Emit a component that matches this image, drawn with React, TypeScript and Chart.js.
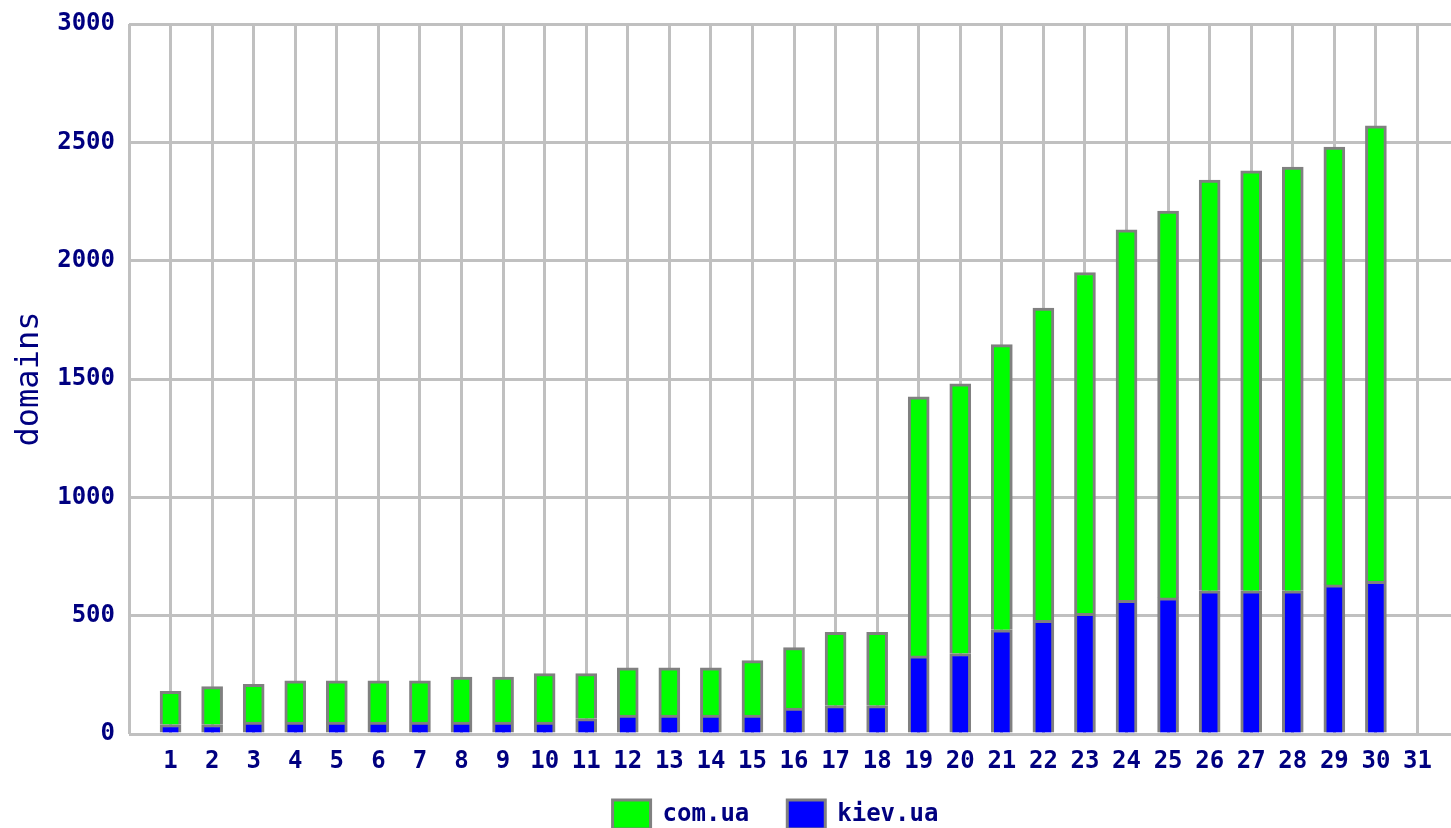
import React, { useEffect, useRef } from "react";
import { Chart, registerables } from "chart.js";

Chart.register(...registerables);

const days = [1, 2, 3, 4, 5, 6, 7, 8, 9, 10, 11, 12, 13, 14, 15, 16, 17, 18, 19, 20, 21, 22, 23, 24, 25, 26, 27, 28, 29, 30];
const kievUa = [40, 40, 50, 50, 50, 50, 50, 50, 50, 50, 65, 80, 80, 80, 80, 110, 120, 120, 330, 340, 440, 480, 510, 565, 575, 605, 605, 605, 630, 645];
const comUa = [140, 160, 160, 175, 175, 175, 175, 190, 190, 205, 190, 200, 200, 200, 230, 255, 310, 310, 1095, 1140, 1205, 1320, 1440, 1565, 1635, 1735, 1775, 1790, 1850, 1925];
const yTicks = [0, 500, 1000, 1500, 2000, 2500, 3000];
const lastDay = 31;

const NAVY = "#000080";
const GRID = "#c0c0c0";
const EDGE = "#808080";
const MONO = "'DejaVu Sans Mono', monospace";

export default function App() {
  const ref = useRef<HTMLCanvasElement>(null);

  useEffect(() => {
    const canvas = ref.current;
    if (!canvas) return;
    const chart = new Chart(canvas, {
      type: "bar",
      data: {
        labels: days,
        datasets: [
          {
            label: "kiev.ua",
            data: kievUa,
            backgroundColor: "#0000ff",
            borderColor: EDGE,
            borderWidth: 3,
            barThickness: 21,
          },
          {
            label: "com.ua",
            data: comUa,
            backgroundColor: "#00ff00",
            borderColor: EDGE,
            borderWidth: 3,
            barThickness: 21,
          },
        ],
      },
      options: {
        responsive: false,
        animation: false,
        devicePixelRatio: 1,
        layout: { padding: { top: 24, left: 0, right: 0, bottom: 0 } },
        plugins: {
          tooltip: { enabled: false },
          legend: {
            position: "bottom",
            reverse: true,
            maxHeight: 54,
            title: {
              display: true,
              text: "",
              font: { size: 10, lineHeight: 1 },
              padding: { top: -22, bottom: 0 },
            },
            labels: {
              boxWidth: 38,
              boxHeight: 29,
              padding: 38,
              color: NAVY,
              font: { family: MONO, size: 24, weight: "bold" },
            },
          },
        },
        scales: {
          x: {
            type: "linear",
            stacked: true,
            min: 0,
            max: 33.9,
            offset: false,
            grid: { color: GRID, lineWidth: 3, drawTicks: false, offset: false },
            border: { display: false },
            ticks: {
              stepSize: 1,
              autoSkip: false,
              maxRotation: 0,
              padding: 13,
              color: NAVY,
              font: { family: MONO, size: 24, weight: "bold" },
              callback: (v: any) => (v >= 1 && v <= lastDay && Number.isInteger(v) ? String(v) : ""),
            },
            afterFit: (s: any) => {
              s.height = 40;
            },
          },
          y: {
            stacked: true,
            min: 0,
            max: 3000,
            grid: { color: GRID, lineWidth: 3, drawTicks: false },
            border: { display: false },
            afterBuildTicks: (s: any) => {
              s.ticks = yTicks.map((v) => ({ value: v }));
            },
            ticks: {
              padding: 14,
              color: NAVY,
              font: { family: MONO, size: 24, weight: "bold", lineHeight: 0.8 },
              callback: (v: any) => String(v),
            },
            title: {
              display: true,
              text: "domains",
              color: NAVY,
              font: { family: MONO, size: 32 },
              padding: { top: 10, bottom: 0 },
            },
            afterFit: (s: any) => {
              s.width = 129;
            },
          },
        },
      },
    });
    return () => chart.destroy();
  }, []);

  return (
    <div style={{ position: "fixed", left: 0, top: 0, width: 1451, height: 828, overflow: "hidden", background: "#fff" }}>
      <canvas ref={ref} width={1551} height={828} style={{ width: 1551, height: 828, display: "block" }} />
    </div>
  );
}
